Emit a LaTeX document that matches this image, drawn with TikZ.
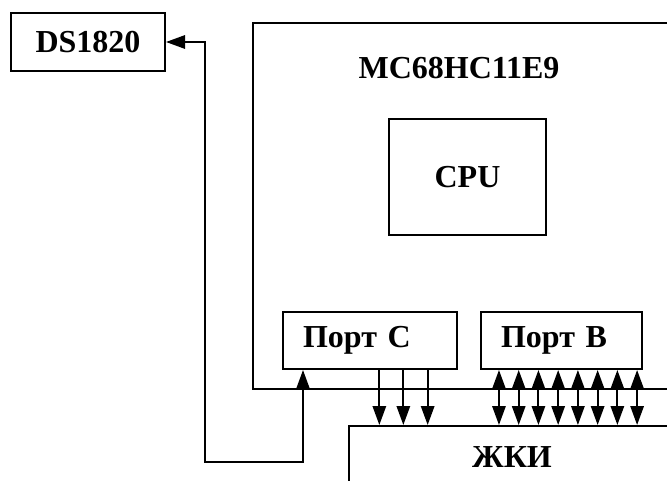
\documentclass[tikz,border=0pt]{standalone}
\usepackage{fontspec}
\setmainfont{Liberation Serif}
\usetikzlibrary{positioning,arrows.meta}

\begin{document}
\begin{tikzpicture}[
  x=0.75pt, y=-0.75pt,
  font=\fontsize{24}{27}\selectfont\bfseries,
  blk/.style={draw, line width=1.5pt, inner sep=0pt, align=center},
  port/.style={draw, line width=1.5pt, inner xsep=15pt, inner ysep=0pt,
               minimum height=42.75pt, align=left, text width=#1},
  flow/.style={-{Triangle[length=14.25pt, width=10pt]}, line width=1.5pt},
  both/.style={{Triangle[length=14.25pt, width=10pt]}-{Triangle[length=14.25pt, width=10pt]},
               line width=1.5pt},
]
\useasboundingbox (0,0) rectangle (667,481);
\clip (0,0) rectangle (667,481);

% --- sensor ---
\node[blk, minimum width=115.5pt, minimum height=43.5pt] (ds) at (88,42) {DS1820};

% --- microcontroller ---
\node[blk, minimum width=335.25pt, minimum height=274.5pt] (mcu) at (476.5,206) {};
\node (mcutitle) at (459,68) {MC68HC11E9};
\node[blk, minimum width=117.75pt, minimum height=87pt] (cpu) at (467.5,177) {CPU};

% --- ports ---
\node[port=100.5pt] (portc) at (370,340.5) {Порт C};
\node[port=90.75pt, right=16.5pt of portc] (portb) {Порт B};

% --- display ---
\node[blk, minimum width=244.5pt, minimum height=46.5pt] (lcd) at (512,457) {ЖКИ};

% --- links ---
\coordinate (wire) at (205,462);
\draw[both] (ds.east) -| (wire) -| ([xshift=-50.25pt]portc.south);
\foreach \dx in {7,25,43.25}
  \draw[flow] ([xshift=\dx pt]portc.south) -- ([xshift=\dx pt]portc.south |- lcd.north);
\foreach \k in {0,...,7}
  \draw[both] ([xshift={-46.9pt+\k*14.8pt}]portb.south)
    -- ([xshift={-46.9pt+\k*14.8pt}]portb.south |- lcd.north);
\end{tikzpicture}
\end{document}
